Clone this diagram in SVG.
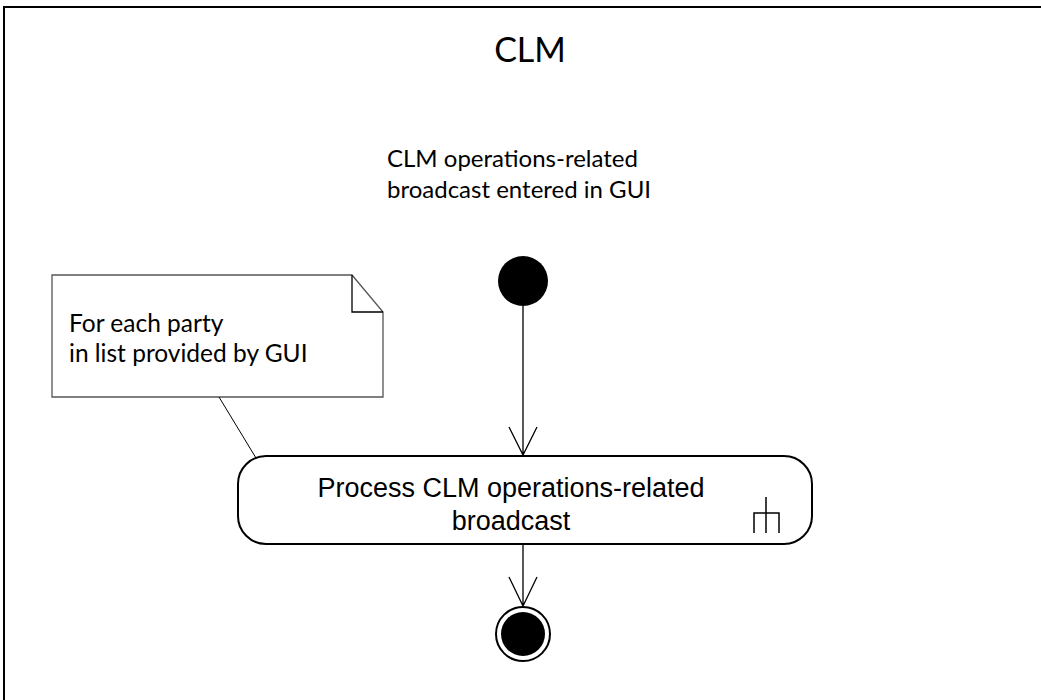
<svg xmlns="http://www.w3.org/2000/svg" width="1041" height="700" viewBox="0 0 1041 700">
<style>
.t{font-family:"Liberation Sans",Arial,sans-serif;fill:#000}
.c{font-family:Lato,"Liberation Sans",sans-serif;fill:#000}
.ln{stroke:#000;stroke-width:1.3;fill:none}
</style>
<rect width="1041" height="700" fill="#fff"/>
<g id="frame">
<rect x="4" y="7" width="1050" height="710" fill="none" stroke="#000" stroke-width="2"/>
<text class="c" x="530" y="62" font-size="34" text-anchor="middle">CLM</text>
</g>
<g id="initial">
<text class="c" x="387" y="167" font-size="24">CLM operations-related</text>
<text class="c" x="387" y="198" font-size="24">broadcast entered in GUI</text>
<circle cx="523" cy="281" r="25" fill="#000"/>
</g>
<g id="note">
<polygon points="52,275 352,275 383,312 383,397 52,397" fill="#fff" stroke="#555" stroke-width="1.3"/>
<polyline points="352,275 352,312 383,312" fill="none" stroke="#000" stroke-width="1.3"/>
<text class="c" x="69" y="332" font-size="24.5">For each party</text>
<text class="c" x="69" y="362" font-size="24.5">in list provided by GUI</text>
</g>
<g id="activity">
<rect x="238" y="456" width="574" height="88" rx="28" ry="28" fill="#fff" stroke="#000" stroke-width="2"/>
<text class="t" x="511" y="497" font-size="27" text-anchor="middle">Process CLM operations-related</text>
<text class="t" x="511" y="530" font-size="27" text-anchor="middle">broadcast</text>
<path d="M766,497 V533 M754,533 V513 H779 V533" fill="none" stroke="#000" stroke-width="1.5"/>
</g>
<g id="final">
<circle cx="523" cy="634" r="27" fill="#fff" stroke="#000" stroke-width="2"/>
<circle cx="523" cy="634" r="22" fill="#000"/>
</g>
<g id="connectors">
<path class="ln" d="M523,306 V455 M509,427 L523,455 L537,427"/>
<path class="ln" d="M523,545 V606 M509,577 L523,606 L537,577"/>
<path d="M219,397 L256,458" stroke="#000" stroke-width="1" fill="none"/>
</g>
</svg>
